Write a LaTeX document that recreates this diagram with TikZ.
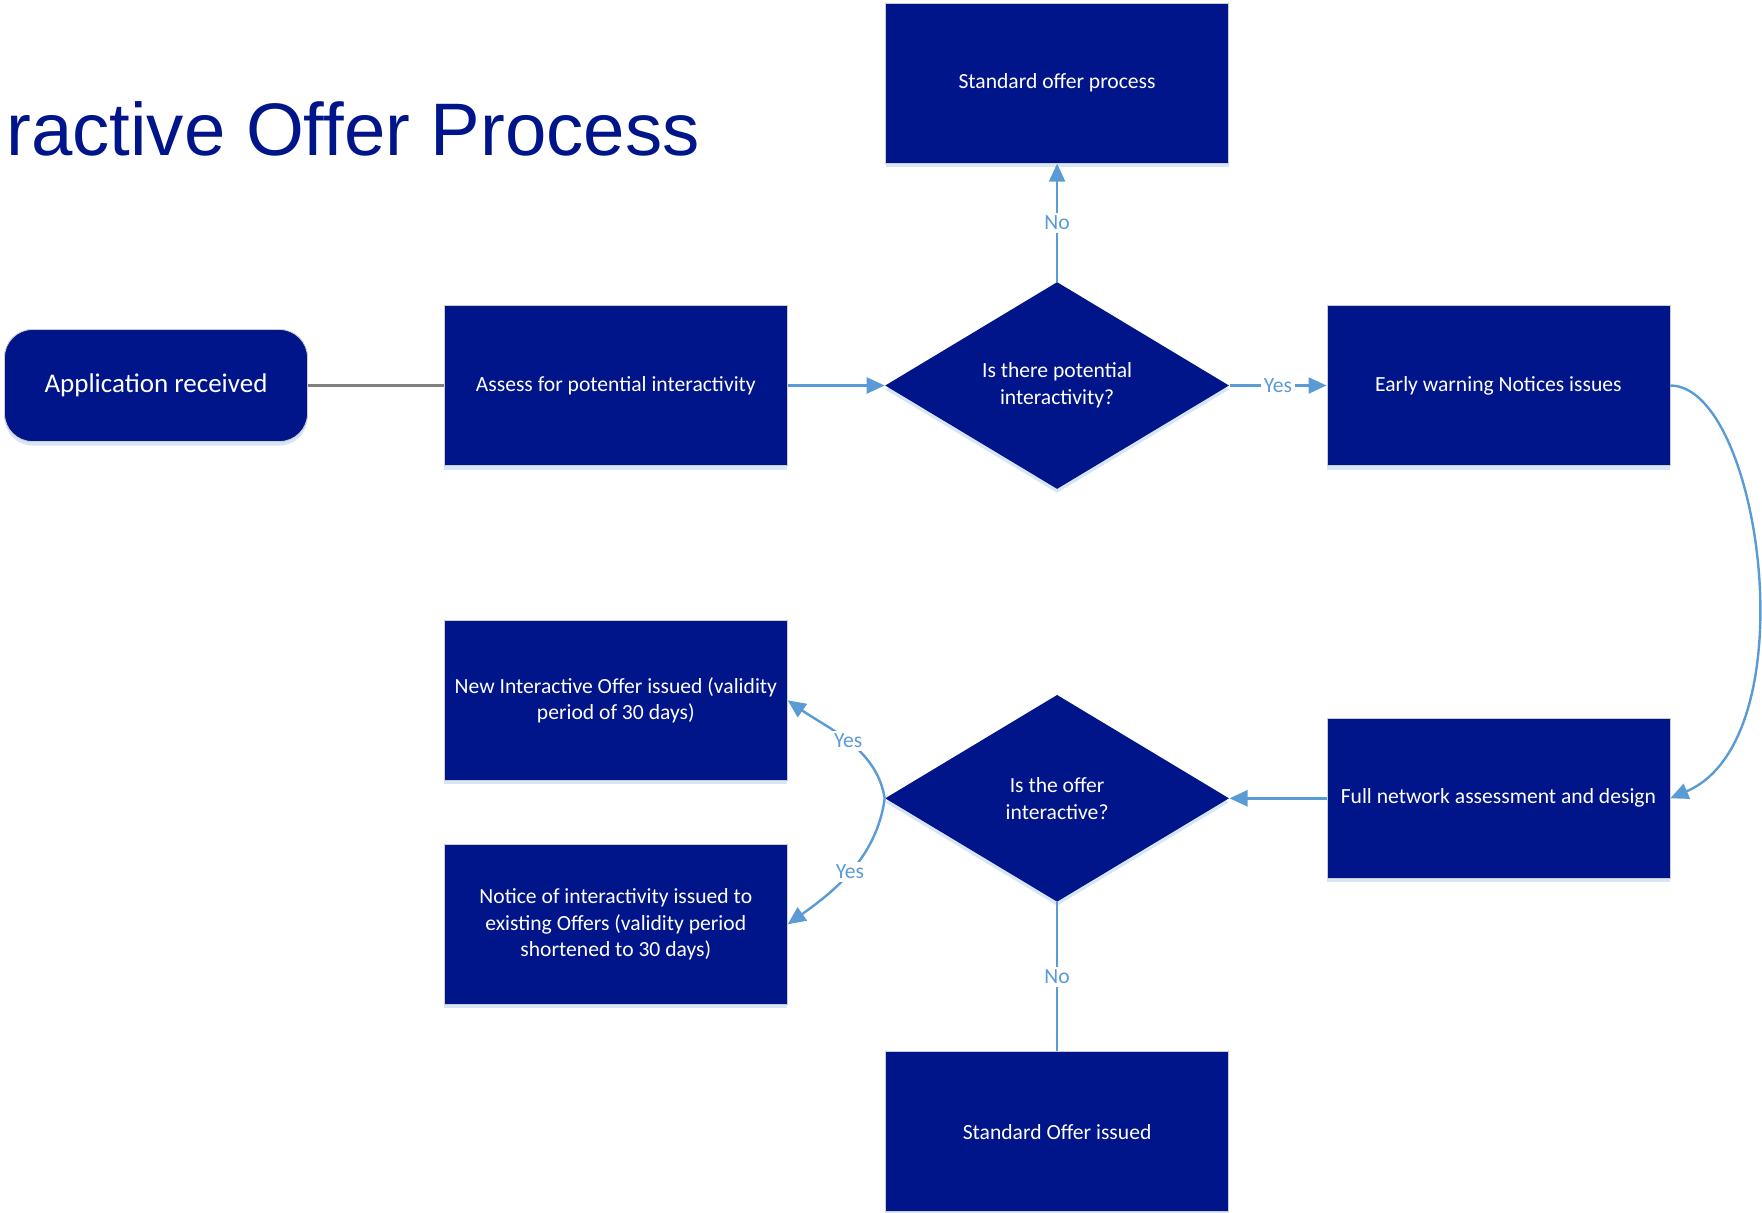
\documentclass[tikz,border=0pt]{standalone}
\usepackage{fontspec}
\setmainfont{Carlito}
\newfontfamily\titlefont{Liberation Sans}
\usetikzlibrary{arrows.meta, positioning, shapes.geometric, shadows}

\definecolor{navy}{RGB}{0,21,137}
\definecolor{linkblue}{RGB}{91,155,213}

\begin{document}
\begin{tikzpicture}[x=0.5pt, y=-0.5pt,
node distance = 48.5pt and 48.5pt,
box/.style = {rectangle, fill=navy, draw=gray!40, line width=0.4pt,
              text=white, minimum width=171.5pt, minimum height=80pt,
              inner sep=2pt, align=center,
              font=\fontsize{10.8}{13.4}\selectfont,
              drop shadow={shadow xshift=0pt, shadow yshift=-2pt,
                           fill=linkblue, opacity=0.25}},
decision/.style = {diamond, fill=navy, text=white,
              minimum width=172pt, minimum height=103.5pt, inner sep=0pt,
              align=center, font=\fontsize{10.8}{13.4}\selectfont,
              drop shadow={shadow xshift=0pt, shadow yshift=-2pt,
                           fill=linkblue, opacity=0.25}},
flow/.style = {draw, color=linkblue, line width=1.2pt,
               -{Triangle[length=9pt,width=8pt]}},
plain/.style = {draw, color=linkblue, line width=1.2pt},
greyline/.style = {draw, color=gray, line width=1.5pt},
lbl/.style = {fill=white, text=linkblue, inner sep=1.5pt,
              font=\fontsize{10.8}{13}\selectfont},
                    ]
\useasboundingbox (0,0) rectangle (1762,1212);
%---
\node (title) [anchor=base west, inner sep=0pt, text=navy,
               font=\titlefont\fontsize{37.2}{40}\selectfont]
      at (6,155) {ractive Offer Process};

\node (app) [box, rounded corners=14pt, minimum width=151.5pt,
             minimum height=56pt, font=\fontsize{13.5}{16}\selectfont]
      at (156,385.5) {Application received};
\node (assess) [box, right=68pt of app] {Assess for potential interactivity};
\node (isint) [decision, right=of assess] {Is there potential\\interactivity?};
\node (early) [box, right=of isint] {Early warning Notices issues};
\node (stdproc) [box, above=59pt of isint] {Standard offer process};
\node (fullnet) [box, below=126pt of early] {Full network assessment and design};
\node (isoffer) [decision, left=of fullnet] {Is the offer\\interactive?};
\node (stdissued) [box, below=74.5pt of isoffer] {Standard Offer issued};
\node (newoffer) [box, left=of isoffer, yshift=49pt]
      {New Interactive Offer issued (validity\\period of 30 days)};
\node (notice) [box, left=of isoffer, yshift=-63pt]
      {Notice of interactivity issued to\\existing Offers (validity period\\shortened to 30 days)};

%---
\path[greyline] (app) -- (assess);
\path[flow]
        (assess) edge (isint)
        (isint) edge node[lbl] {No} (stdproc)
        (isint) edge node[lbl] {Yes} (early)
        (fullnet) edge (isoffer);
\draw[flow] (early.east) .. controls +(90,0) and +(140,-60) .. (fullnet.east);
\draw[flow] (isoffer.west) .. controls +(-8,-50) and +(40,28) ..
        node[lbl] {Yes} (newoffer.east);
\draw[flow] (isoffer.west) .. controls +(-8,60) and +(45,-32) ..
        node[lbl] {Yes} (notice.east);
\path[plain] (isoffer) edge node[lbl] {No} (stdissued);
\end{tikzpicture}
\end{document}
